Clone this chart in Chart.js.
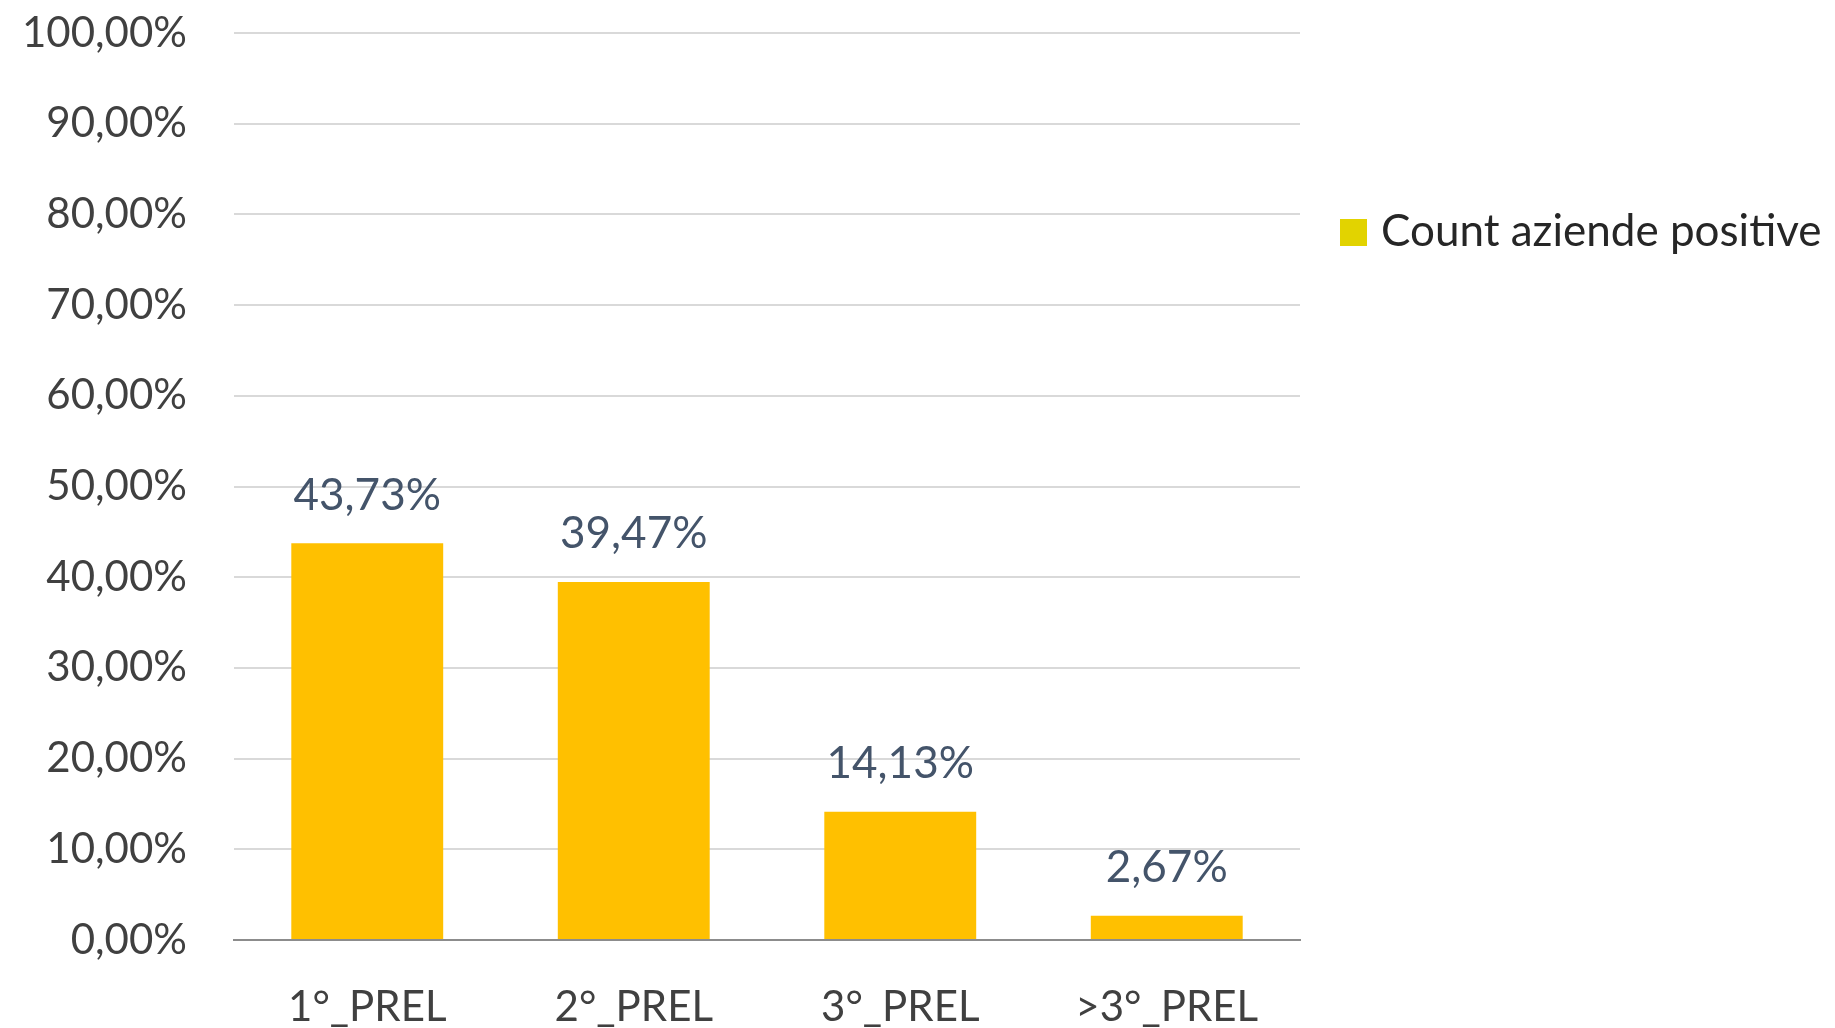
<!DOCTYPE html>
<html><head><meta charset="utf-8">
<style>html,body{margin:0;padding:0;background:#fff;overflow:hidden;}</style>
<script src="https://cdn.jsdelivr.net/npm/chart.js@4.4.1/dist/chart.umd.min.js"></script>
</head><body>
<canvas id="c" width="1835" height="1028" style="display:block;width:1835px;height:1028px"></canvas>
<script>
const categories = ['1°_PREL', '2°_PREL', '3°_PREL', '>3°_PREL'];
const seriesLabel = 'Count aziende positive';
const values = [43.73, 39.47, 14.13, 2.67];
const yMin = 0, yMax = 100, yStep = 10;
const barColor = '#FFC000';
const legendColor = '#E2D300';
const FONT = 'Lato';

function fmt(v) { return v.toFixed(2).replace('.', ',') + '%'; }

const valueLabels = {
  id: 'valueLabels',
  afterDatasetsDraw(chart) {
    const ctx = chart.ctx;
    const meta = chart.getDatasetMeta(0);
    ctx.save();
    ctx.font = '44px ' + FONT;
    ctx.fillStyle = '#44546A';
    ctx.textAlign = 'center';
    ctx.textBaseline = 'middle';
    meta.data.forEach((bar, i) => {
      ctx.fillText(fmt(chart.data.datasets[0].data[i]), bar.x, bar.y - 48);
    });
    ctx.restore();
  }
};

const sideLegend = {
  id: 'sideLegend',
  afterDraw(chart) {
    const ctx = chart.ctx;
    const x = chart.chartArea.right + 40;
    const y = 232;
    ctx.save();
    ctx.fillStyle = legendColor;
    ctx.fillRect(x, y - 13, 27, 27);
    ctx.font = '44px ' + FONT;
    ctx.fillStyle = '#262626';
    ctx.textAlign = 'left';
    ctx.textBaseline = 'middle';
    ctx.fillText(chart.data.datasets[0].label, x + 41, y);
    ctx.restore();
  }
};

new Chart(document.getElementById('c'), {
  type: 'bar',
  data: {
    labels: categories,
    datasets: [{
      label: seriesLabel,
      data: values,
      backgroundColor: barColor,
      borderWidth: 0,
      barPercentage: 0.57,
      categoryPercentage: 1.0
    }]
  },
  options: {
    responsive: false,
    animation: false,
    layout: { padding: { top: 33, right: 535, left: 0, bottom: 0 } },
    plugins: { legend: { display: false }, tooltip: { enabled: false } },
    scales: {
      x: {
        grid: { display: false, drawTicks: false },
        border: { display: true, color: '#8C8C8C', width: 2 },
        ticks: { color: '#404040', font: { family: FONT, size: 42, lineHeight: 1.0 }, padding: 46, maxRotation: 0 },
        afterFit(s) { s.height = 88; s.paddingLeft = 0; s.paddingRight = 0; }
      },
      y: {
        min: yMin, max: yMax,
        grid: { color: '#D9D9D9', lineWidth: 2, drawTicks: false },
        border: { display: false },
        ticks: {
          stepSize: yStep,
          color: '#404040',
          font: { family: FONT, size: 42 },
          padding: 47,
          callback: (v) => fmt(v)
        },
        afterFit(s) { s.width = 234; s.paddingTop = 0; s.paddingBottom = 0; }
      }
    }
  },
  plugins: [valueLabels, sideLegend]
});
</script>
</body></html>
